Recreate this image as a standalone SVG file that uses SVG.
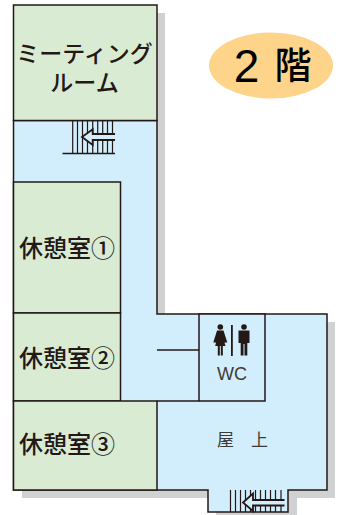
<svg xmlns="http://www.w3.org/2000/svg" width="339" height="515" viewBox="0 0 339 515">
<style>
.room{fill:#d9ecd3;stroke:#231815;stroke-width:1.5}
.line{fill:none;stroke:#231815;stroke-width:1.5}
.st{fill:none;stroke:#231815;stroke-width:1.2}
.ar{fill:#d2edfb;stroke:#231815;stroke-width:1.5}
.arrow{fill:#d2edfb;stroke:#231815;stroke-width:1.8}
.label{font-family:"Noto Sans CJK JP","Liberation Sans",sans-serif;font-size:24px;font-weight:500;fill:#231815;text-anchor:middle}
.fig{fill:#231815}
</style>
<rect width="339" height="515" fill="#fff"/>
<path id="shadow" d="M157 13H165V314H327V322H335V498H297V515H216V498H22V490H157Z" fill="#d0d1d2"/>
<path id="floor" d="M13.500 120.500H157V314H327V490H288V512H208V490H13.500Z" fill="#d2edfb" stroke="#231815" stroke-width="1.5"/>
<g id="room-meeting"><rect class="room" x="13.500" y="5" width="143.500" height="115.500"/><text class="label" style="font-size:23px"><tspan x="84.500" y="62">ミーティング</tspan><tspan x="84.500" y="91">ルーム</tspan></text></g>
<g id="room-1"><rect class="room" x="13.500" y="182" width="107" height="131"/><text class="label" x="67" y="257">休憩室①</text></g>
<g id="room-2"><rect class="room" x="13.500" y="313" width="107" height="88"/><text class="label" x="67" y="367">休憩室②</text></g>
<g id="room-3"><rect class="room" x="13.500" y="401" width="143.500" height="89"/><text class="label" x="67" y="453">休憩室③</text></g>
<g id="wc">
<rect class="ar" x="199" y="314" width="66" height="87"/>
<circle class="fig" cx="220.300" cy="327" r="2.800"/>
<path class="fig" d="M217 330.500H223.500L227.300 342.500H224.500L225.500 346H222.800V355.500H220.800V346H219.800V355.500H217.800V346H215.200L216 342.500H213.300Z"/>
<rect class="fig" x="231" y="325" width="1.800" height="31"/>
<circle class="fig" cx="244" cy="327" r="2.800"/>
<path class="fig" d="M238.500 330.500H249.500V343H247.300V355.500H244.500V344H243.500V355.500H240.700V343H238.500Z"/>
<text x="232" y="380" font-family="Liberation Sans,sans-serif" font-size="18" fill="#3e3a39" text-anchor="middle">WC</text>
</g>
<g id="connectors">
<path class="line" d="M157 350H199"/>
<path class="line" d="M157 401H199"/>
<g id="stairs-upper">
<path class="st" d="M72.700 120.500V153M77.500 120.500V153M82.500 120.500V153M87.500 120.500V153M92.700 120.500V153M97.700 120.500V153M102.700 120.500V153M107.500 120.500V153M112.500 120.500V153"/>
<path class="line" d="M62.500 153.500H115"/>
<path class="arrow" d="M115 134H92.700V129.300L82 137L92.700 145V140H115"/>
</g>
<g id="stairs-lower">
<path class="st" d="M230.500 490V512M235.500 490V512M240.500 490V512M245.500 490V512M250.500 490V512M255.500 490V512M260.500 490V512M265.500 490V512M270.500 490V512M275.500 490V512M281 490V512"/>
<path class="arrow" d="M284.500 500H253V493.500L243 502.500L253 511V505.500H284.500"/>
</g>
</g>
<g id="roof"><text x="242.500" y="446" font-family="Noto Sans CJK JP,sans-serif" font-size="17" fill="#3e3a39" text-anchor="middle" xml:space="preserve">屋　上</text></g>
<g id="floor-badge"><ellipse cx="271" cy="65.500" rx="62" ry="33" fill="#fdd48a"/>
<text x="246.500" y="82" font-family="Liberation Sans,sans-serif" font-size="46" fill="#000" text-anchor="middle">2</text>
<text x="293" y="79" font-family="Noto Sans CJK JP,sans-serif" font-size="37" font-weight="500" fill="#000" text-anchor="middle">階</text></g>
</svg>
